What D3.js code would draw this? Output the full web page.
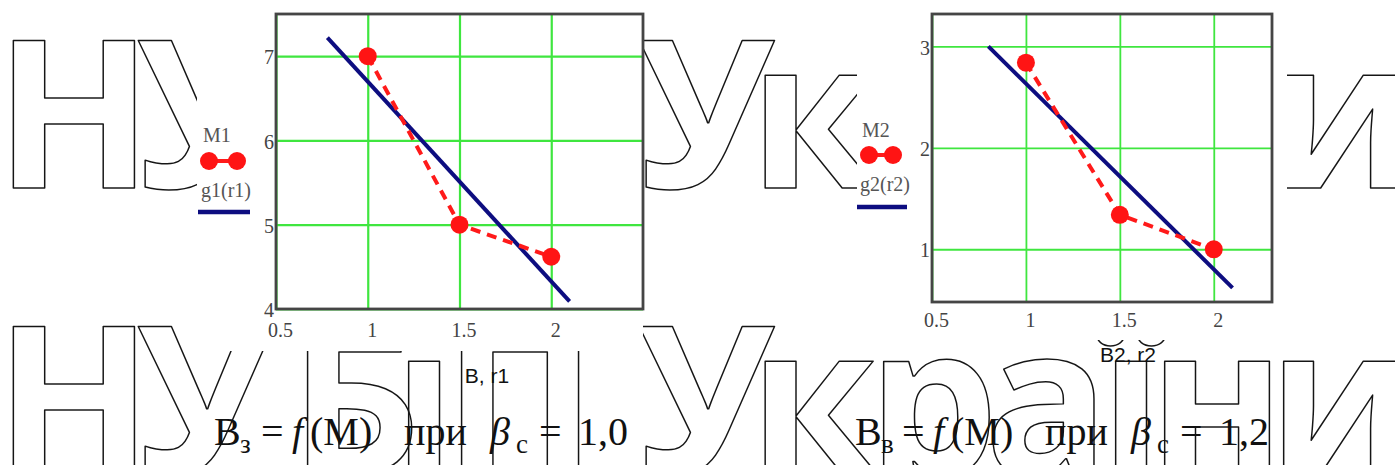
<!DOCTYPE html>
<html><head><meta charset="utf-8">
<script src="https://cdn.jsdelivr.net/npm/d3@7"></script>
<style>html,body{margin:0;padding:0;background:#fff;overflow:hidden}</style>
</head><body><svg id="c" width="1395" height="465"></svg>
<script>
// ---- data ----
const r = [1, 1.5, 2];
const M1 = [7.0, 5.0, 4.62];
const M2 = [2.84, 1.34, 1.0];
const r1Fit = [0.78, 2.1];
const g1Fit = [7.22, 4.09];
const r2Fit = [0.8, 2.1];
const g2Fit = [3.0, 0.62];
const xTicks = [0.5, 1, 1.5, 2];
const yTicks1 = [4, 5, 6, 7];
const yTicks2 = [1, 2, 3];
const xLabels = ["B, r1", "B2, r2"];
const seriesNames = ["M1", "M2"];
const fitNames = ["g1(r1)", "g2(r2)"];
const captionSub = ["з", "в"];
const captionBeta = ["1,0", "1,2"];
const watermarkLetters = ["Н","У","Б","і","П","У","к","р","а","ї","н","и"];

// ---- drawing ----
const svg = d3.select("#c");
const SERIF = "'Liberation Serif','Times New Roman',serif";
const SANS = "'Liberation Sans',Arial,sans-serif";

// watermark (outlined letters), two rows
const wmCenters = [74, 205, 355, 424, 520, 706, 813, 933, 1047, 1131, 1217, 1342];
const wm = svg.append("g");
[188, 474].forEach(base => {
  wm.selectAll(null).data(watermarkLetters).enter().append("text")
    .attr("x", (d, i) => wmCenters[i]).attr("y", base)
    .attr("text-anchor", "middle")
    .attr("font-family", "'Open Sans',sans-serif").attr("font-weight", 700)
    .attr("font-size", 207)
    .attr("fill", "none").attr("stroke", "#151515").attr("stroke-width", 1.5)
    .attr("stroke-linejoin", "round")
    .text(d => d);
});

const charts = [
  {left: 276, right: 643, top: 14, bottom: 309, xDom: [0.5, 2.5], yDom: [4, 7.5],
   y: M1, fx: r1Fit, fy: g1Fit, yTicks: yTicks1, region: [197, 0, 446, 351],
   lab: {x: 487, y: 383}, xtY: 337, leg: {tx: 203, ty1: 142, dy: 161, d1: 209, d2: 237, ty2: 197, bx1: 198, bx2: 250, by: 212},
   gridW: 2.2, off: 0},
  {left: 932, right: 1272, top: 14, bottom: 302, xDom: [0.5, 2.31], yDom: [0.48, 3.32],
   y: M2, fx: r2Fit, fy: g2Fit, yTicks: yTicks2, region: [857, 0, 430, 340],
   lab: {x: 1128, y: 362}, xtY: 327, leg: {tx: 862, ty1: 137, dy: 155, d1: 869, d2: 893, ty2: 191, bx1: 857, bx2: 907, by: 207},
   gridW: 1.8, off: 641}
];

charts.forEach((c, k) => {
  // white image area covering the watermark
  svg.append("rect").attr("x", c.region[0]).attr("y", c.region[1])
    .attr("width", c.region[2]).attr("height", c.region[3]).attr("fill", "#fff");

  const x = d3.scaleLinear().domain(c.xDom).range([c.left, c.right]);
  const y = d3.scaleLinear().domain(c.yDom).range([c.bottom, c.top]);
  const g = svg.append("g");

  // grid via axes
  const gx = g.append("g").attr("transform", `translate(0,${c.bottom})`)
    .call(d3.axisBottom(x).tickValues(xTicks).tickSize(-(c.bottom - c.top)).tickFormat(d3.format("")));
  const gy = g.append("g").attr("transform", `translate(${c.left},0)`)
    .call(d3.axisLeft(y).tickValues(c.yTicks).tickSize(-(c.right - c.left)).tickFormat(d3.format("")));
  [gx, gy].forEach(a => {
    a.select(".domain").remove();
    a.selectAll(".tick line").attr("stroke", "#3fe63f").attr("stroke-width", c.gridW);
    a.selectAll(".tick text").attr("font-family", SERIF).attr("font-size", 20).attr("fill", "#444");
  });
  gx.selectAll(".tick text").attr("x", 4).attr("y", c.xtY - c.bottom).attr("dy", null);
  gy.selectAll(".tick text").attr("x", -2).attr("dy", "0.38em");

  // frame
  g.append("rect").attr("x", c.left).attr("y", c.top)
    .attr("width", c.right - c.left).attr("height", c.bottom - c.top)
    .attr("fill", "none").attr("stroke", "#454545").attr("stroke-width", 2.8);

  const plot = g.append("g");
  // regression line
  plot.append("path").datum(c.fx.map((v, i) => [v, c.fy[i]]))
    .attr("d", d3.line().x(d => x(d[0])).y(d => y(d[1])))
    .attr("fill", "none").attr("stroke", "#0d0d80").attr("stroke-width", 4);
  // measured points
  const pts = r.map((v, i) => [v, c.y[i]]);
  plot.append("path").datum(pts)
    .attr("d", d3.line().x(d => x(d[0])).y(d => y(d[1])))
    .attr("fill", "none").attr("stroke", "#ff1a1a").attr("stroke-width", 4)
    .attr("stroke-dasharray", "10,7");
  plot.selectAll(null).data(pts).enter().append("circle")
    .attr("cx", d => x(d[0])).attr("cy", d => y(d[1])).attr("r", 9)
    .attr("fill", "#ff1414");

  // legend
  const L = c.leg;
  g.append("text").attr("x", L.tx).attr("y", L.ty1).attr("font-family", SERIF)
    .attr("font-size", 20).attr("fill", "#555").text(seriesNames[k]);
  g.append("line").attr("x1", L.d1).attr("x2", L.d2).attr("y1", L.dy).attr("y2", L.dy)
    .attr("stroke", "#ff1a1a").attr("stroke-width", 4);
  g.selectAll(null).data([L.d1, L.d2]).enter().append("circle")
    .attr("cx", d => d).attr("cy", L.dy).attr("r", 9).attr("fill", "#ff1414");
  g.append("text").attr("x", L.tx - 2).attr("y", L.ty2).attr("font-family", SERIF)
    .attr("font-size", 20).attr("fill", "#555").text(fitNames[k]);
  g.append("line").attr("x1", L.bx1).attr("x2", L.bx2).attr("y1", L.by).attr("y2", L.by)
    .attr("stroke", "#0d0d80").attr("stroke-width", 4.5);

  // axis label
  svg.append("text").attr("x", c.lab.x).attr("y", c.lab.y).attr("text-anchor", "middle")
    .attr("font-family", SANS).attr("font-size", 21).attr("fill", "#111").text(xLabels[k]);

  // caption
  const o = c.off, base = 445;
  const cap = svg.append("g").attr("font-family", SERIF).attr("fill", "#111");
  const piece = (px, txt, opts = {}) => cap.append("text").attr("x", px + o)
    .attr("y", base + (opts.sub ? 8 : 0)).attr("font-size", opts.sub ? 27 : 40)
    .attr("font-style", opts.it ? "italic" : "normal").text(txt);
  piece(214, "B");
  piece(240, captionSub[k], {sub: true});
  piece(261, "=");
  piece(292, "f", {it: true});
  piece(310, "(M)");
  piece(404, "при");
  piece(490, "β", {it: true});
  piece(516, "c", {sub: true});
  piece(539, "=");
  piece(578, captionBeta[k]);
});
</script>
</body></html>
